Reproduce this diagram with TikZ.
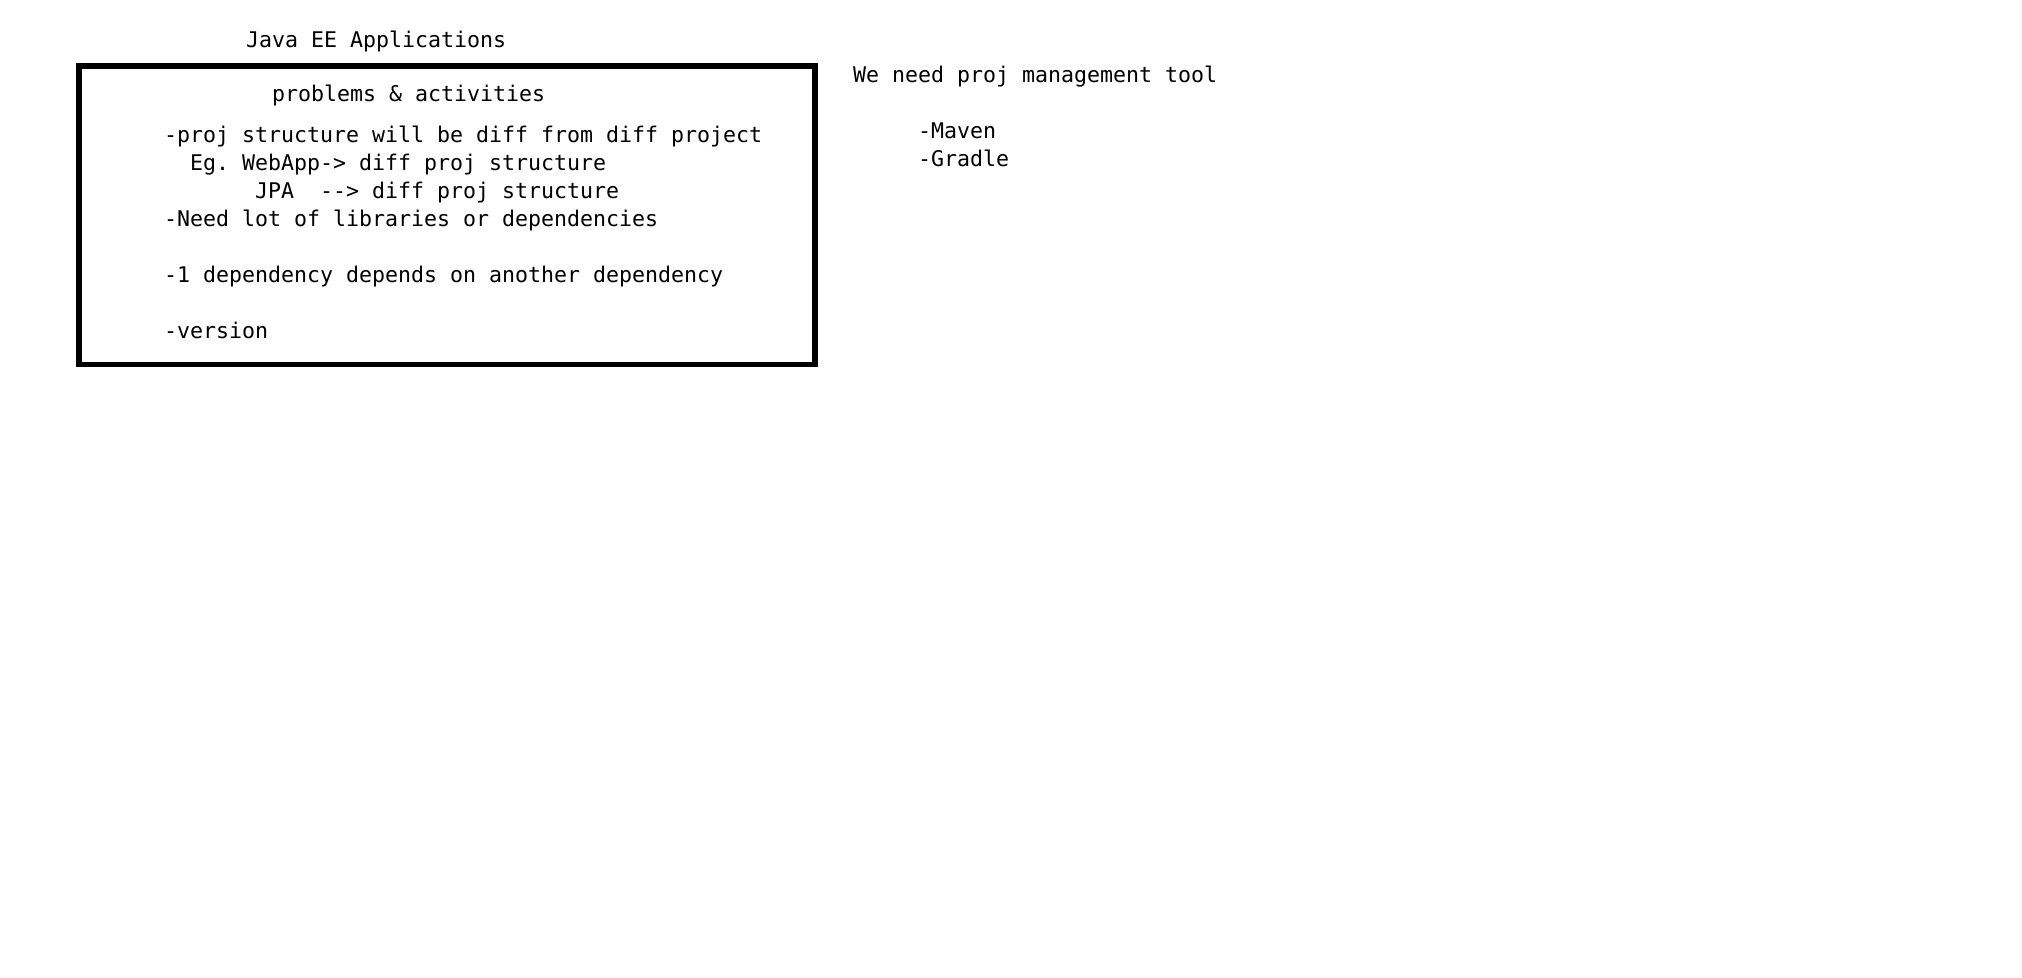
\documentclass[tikz,border=0pt]{standalone}
\usepackage{fontspec}
\setmonofont{DejaVu Sans Mono}
\frenchspacing
\begin{document}
\begin{tikzpicture}[x=0.5pt,y=-0.5pt,
  txt/.style={anchor=base west,inner sep=0pt,outer sep=0pt,font=\ttfamily\fontsize{10.8pt}{14pt}\selectfont,text=black},
  frame/.style={draw=black,line width=2.8pt}]
\useasboundingbox[fill=white] (0,0) rectangle (2022,978);
\node[txt] (title) at (246,48) {Java EE Applications};
\draw[frame] (79,66) rectangle (815,364.5);
\coordinate (boxnw) at (79,66);
\node[txt] (head) at (272,102) {problems \& activities};
\node[txt] (l1) at (164,143) {-proj structure will be diff from diff project};
\node[txt] (l2) at (190,171) {Eg. WebApp-> diff proj structure};
\node[txt] (l3) at (255,199) {JPA\ \ -{}-> diff proj structure};
\node[txt] (l4) at (164,227) {-Need lot of libraries or dependencies};
\node[txt] (l5) at (164,283) {-1 dependency depends on another dependency};
\node[txt] (l6) at (164,339) {-version};
\node[txt] (need) at (853,83) {We need proj management tool};
\node[txt] (maven) at (918,139) {-Maven};
\node[txt] (gradle) at (918,167) {-Gradle};
\end{tikzpicture}
\end{document}
